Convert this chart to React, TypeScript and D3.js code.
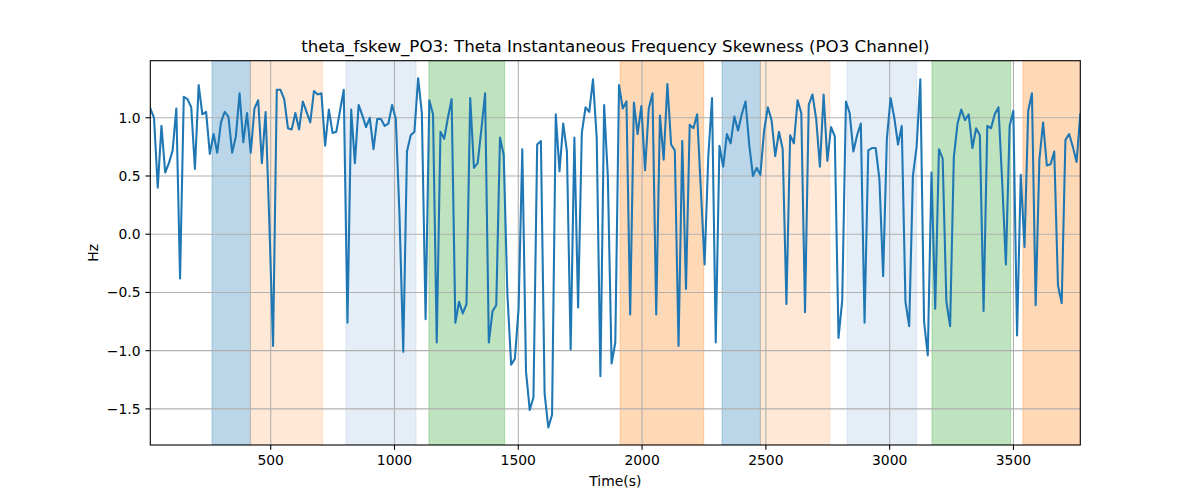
import React from "react";
import * as d3 from "d3";

const values: number[] = [
  1.08, 1.0, 0.40, 0.93, 0.53, 0.61, 0.72, 1.08, -0.38, 1.18,
  1.16, 1.09, 0.56, 1.28, 1.03, 1.05, 0.69, 0.86, 0.70, 0.96,
  1.05, 1.01, 0.70, 0.84, 1.21, 0.79, 1.04, 0.70, 1.08, 1.15,
  0.61, 1.05, 0.10, -0.96, 1.24, 1.24, 1.16, 0.91, 0.90, 1.04,
  0.90, 1.14, 1.05, 0.96, 1.23, 1.20, 1.21, 0.76, 1.07, 0.87,
  0.88, 1.06, 1.24, -0.76, 1.07, 0.61, 1.11, 1.02, 0.92, 1.0,
  0.73, 0.99, 0.99, 0.93, 0.95, 1.11, 0.99, 0.15, -1.01, 0.71,
  0.85, 0.88, 1.34, 1.04, -0.73, 1.15, 1.03, -0.93, 0.88, 0.82,
  1.0, 1.16, -0.76, -0.58, -0.68, -0.60, 1.17, 0.57, 0.61, 0.90,
  1.21, -0.93, -0.66, -0.61, 0.83, 0.68, -0.52, -1.12, -1.07, -0.64,
  0.73, -1.18, -1.51, -1.40, 0.77, 0.80, -1.37, -1.66, -1.55, 1.03,
  0.54, 0.95, 0.71, -0.99, 0.83, -0.63, 0.87, 1.09, 1.05, 1.33,
  0.83, -1.22, 1.11, 0.49, -1.11, -0.93, 1.28, 1.08, 1.14, -0.69,
  1.13, 0.86, 1.10, 0.55, 1.08, 1.21, -0.69, 1.02, 0.64, 1.29,
  0.77, 0.72, -0.96, 0.80, -0.47, 0.94, 0.91, 1.03, 0.38, -0.26,
  0.67, 1.17, -0.93, 0.76, 0.58, 0.86, 0.78, 1.01, 0.89, 1.03,
  1.14, 0.77, 0.50, 0.57, 0.51, 0.89, 1.09, 0.98, 0.67, 0.88,
  0.73, -0.60, 0.85, 0.78, 1.15, 1.04, -0.67, 1.11, 1.20, 0.99,
  0.58, 1.20, 0.63, 0.92, 0.84, -0.89, -0.57, 1.14, 1.04, 0.71,
  0.85, 0.95, -0.76, 0.72, 0.74, 0.74, 0.47, -0.36, 0.82, 1.17,
  1.0, 0.77, 0.93, -0.58, -0.79, 0.50, 0.75, 1.33, -0.75, -1.04,
  0.53, -0.64, 0.73, 0.65, -0.58, -0.79, 0.66, 0.95, 1.07, 0.98,
  1.03, 0.74, 0.91, 0.85, -0.66, 0.93, 0.91, 1.03, 1.09, 0.45,
  -0.26, 0.93, 1.06, -0.87, 0.51, -0.11, 1.06, 1.21, -0.61, 0.64,
  0.96, 0.59, 0.60, 0.71, -0.44, -0.59, 0.81, 0.86, 0.75, 0.62,
  1.03,
];

const tStart = 13.7;
const tEnd = 3770;
const times: number[] = values.map((_, i) => tStart + (i * (tEnd - tStart)) / (values.length - 1));

const spanStarts = [263, 418, 804, 1139, 1911, 2323, 2478, 2828, 3171, 3538];
const spanEnds = [418, 710, 1087, 1445, 2249, 2478, 2758, 3109, 3489, 3800];
const spanColors = ["#1f77b4", "#ff7f0e", "#7fa6d9", "#2ca02c", "#ff7f0e", "#1f77b4", "#ff7f0e", "#7fa6d9", "#2ca02c", "#ff7f0e"];
const spanAlphas = [0.3, 0.17, 0.2, 0.3, 0.3, 0.3, 0.17, 0.2, 0.3, 0.3];

const xTicks = [500, 1000, 1500, 2000, 2500, 3000, 3500];
const yTicks = [-1.5, -1.0, -0.5, 0.0, 0.5, 1.0];

const title = "theta_fskew_PO3: Theta Instantaneous Frequency Skewness (PO3 Channel)";
const xLabel = "Time(s)";
const yLabel = "Hz";

export default function App() {
  const W = 1200, H = 500;
  const left = 150.3, right = 1080.3, top = 60.7, bottom = 445;
  const yMin = d3.min(values)!;
  const yMax = d3.max(values)!;
  const pad = (yMax - yMin) * 0.05;
  const x = d3.scaleLinear().domain([tStart, tEnd]).range([left, right]);
  const y = d3.scaleLinear().domain([yMin - pad, yMax + pad]).range([bottom, top]);
  const line = d3.line<number>().x((_, i) => x(times[i])).y((d) => y(d));
  const font = "DejaVu Sans, sans-serif";
  const fmt = (v: number) => (v < 0 ? "\u2212" : "") + Math.abs(v).toFixed(1);

  return (
    <svg width={W} height={H} style={{ position: "absolute", left: 0, top: 0, background: "#fff" }} fontFamily={font}>
      <defs>
        <clipPath id="plot">
          <rect x={left} y={top} width={right - left} height={bottom - top} />
        </clipPath>
      </defs>
      <g clipPath="url(#plot)">
        {spanStarts.map((s, i) => (
          <rect
            key={i}
            x={x(s)}
            y={top}
            width={x(spanEnds[i]) - x(s)}
            height={bottom - top}
            fill={spanColors[i]}
            fillOpacity={spanAlphas[i]}
            stroke={spanColors[i]}
            strokeOpacity={spanAlphas[i]}
            strokeWidth={1}
          />
        ))}
        {xTicks.map((t) => (
          <line key={"gx" + t} x1={x(t)} x2={x(t)} y1={top} y2={bottom} stroke="#b0b0b0" strokeWidth={1.1} />
        ))}
        {yTicks.map((t) => (
          <line key={"gy" + t} x1={left} x2={right} y1={y(t)} y2={y(t)} stroke="#b0b0b0" strokeWidth={1.1} />
        ))}
        <path d={line(values) || ""} fill="none" stroke="#1f77b4" strokeWidth={2.08} strokeLinejoin="round" strokeLinecap="square" />
      </g>
      <rect x={left} y={top} width={right - left} height={bottom - top} fill="none" stroke="#000" strokeWidth={1.1} />
      {xTicks.map((t) => (
        <g key={"tx" + t}>
          <line x1={x(t)} x2={x(t)} y1={bottom} y2={bottom + 4.86} stroke="#000" strokeWidth={1.1} />
          <text x={x(t)} y={bottom + 20.3} fontSize={13.9} textAnchor="middle" fill="#000">{t}</text>
        </g>
      ))}
      {yTicks.map((t) => (
        <g key={"ty" + t}>
          <line x1={left - 4.86} x2={left} y1={y(t)} y2={y(t)} stroke="#000" strokeWidth={1.1} />
          <text x={left - 9.7} y={y(t)} dy="0.36em" fontSize={13.9} textAnchor="end" fill="#000">{fmt(t)}</text>
        </g>
      ))}
      <text x={(left + right) / 2} y={486} fontSize={13.9} textAnchor="middle" fill="#000">{xLabel}</text>
      <text transform={`translate(98, ${(top + bottom) / 2}) rotate(-90)`} fontSize={13.9} textAnchor="middle" fill="#000">{yLabel}</text>
      <text x={(left + right) / 2} y={52.4} fontSize={16.67} textAnchor="middle" fill="#000">{title}</text>
    </svg>
  );
}
